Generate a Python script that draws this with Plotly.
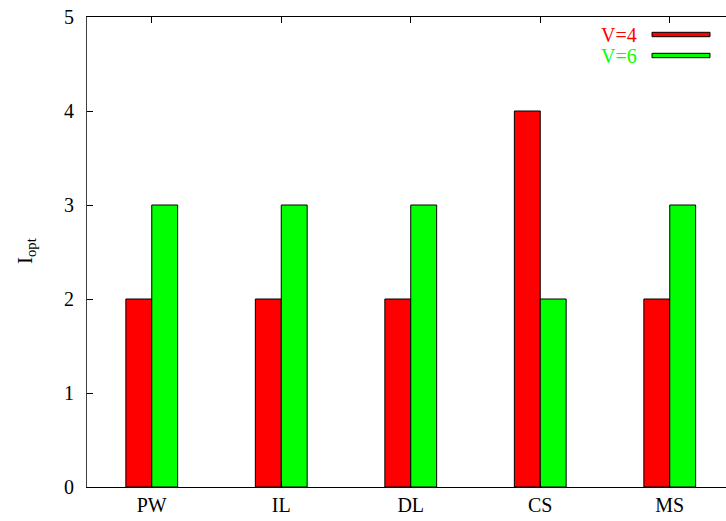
import plotly.graph_objects as go

categories = ["PW", "IL", "DL", "CS", "MS"]
v4_values = [2, 2, 2, 4, 2]
v6_values = [3, 3, 3, 2, 3]
series_names = ["V=4", "V=6"]
series_colors = ["#ff0000", "#00ff00"]
y_ticks = [0, 1, 2, 3, 4, 5]

FONT = "Liberation Serif, Times New Roman, serif"

fig = go.Figure()
for name, vals, col in zip(series_names, [v4_values, v6_values], series_colors):
    fig.add_trace(go.Bar(
        x=categories, y=vals, name=name,
        marker=dict(color=col, line=dict(color="#000000", width=1)),
        showlegend=False,
    ))

W, H = 726, 521
L, R, T, B = 87, 0, 17, 34
pw, ph = W - L - R, H - T - B

def px_x(x):
    return (x - L) / pw

def px_y(y):
    return (H - B - y) / ph

# gnuplot-style key: text then sample box
key_rows = [(34.5, 32.3, 36.7), (55.5, 53.3, 57.7)]
for (cy, y0, y1), name, col in zip(key_rows, series_names, series_colors):
    fig.add_annotation(x=px_x(639), y=px_y(cy), xref="paper", yref="paper",
                       text=name, showarrow=False, xanchor="right", yanchor="middle",
                       font=dict(family=FONT, size=20, color=col))
    fig.add_shape(type="rect", xref="paper", yref="paper",
                  x0=px_x(652), x1=px_x(710), y0=px_y(y1), y1=px_y(y0),
                  fillcolor=col, line=dict(color="#000000", width=1))

fig.add_annotation(x=px_x(26), y=px_y(251), xref="paper", yref="paper",
                   text="I<sub>opt</sub>", showarrow=False, textangle=-90,
                   xanchor="center", yanchor="middle",
                   font=dict(family=FONT, size=21, color="#000000"))

fig.update_layout(
    width=W, height=H,
    margin=dict(l=L, r=R, t=T, b=B, pad=0),
    paper_bgcolor="white", plot_bgcolor="white",
    barmode="group", bargap=0.6, bargroupgap=0,
    font=dict(family=FONT, size=20, color="#000000"),
)
fig.update_xaxes(
    type="category", range=[-0.5, -0.5 + pw / 129.5],
    showline=True, linecolor="#000000", linewidth=1, mirror="ticks",
    ticks="inside", ticklen=6, tickcolor="#000000",
    showgrid=False, zeroline=False,
    tickfont=dict(family=FONT, size=20, color="#000000"),
)
fig.update_yaxes(
    range=[0, 5], tickvals=y_ticks, ticktext=[str(v) for v in y_ticks],
    showline=True, linecolor="#404040", linewidth=1,
    ticks="inside", ticklen=6, tickcolor="#000000",
    showgrid=False, zeroline=False,
    tickfont=dict(family=FONT, size=20, color="#000000"),
    ticklabelstandoff=8,
)

fig.write_html(
    "out.html",
    config={"displayModeBar": False, "responsive": False},
    post_script="document.body.style.margin='0';document.body.style.overflow='hidden';",
)
